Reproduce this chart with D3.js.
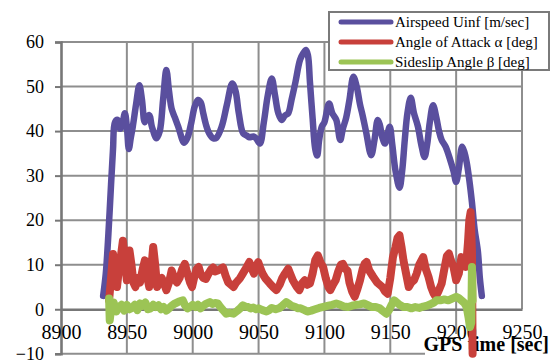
<!DOCTYPE html>
<html>
<head>
<meta charset="utf-8">
<script src="https://cdn.jsdelivr.net/npm/d3@7/dist/d3.min.js"></script>
<style>
  html, body { margin: 0; padding: 0; background: #fff; }
  svg { display: block; }
</style>
</head>
<body>
<svg id="chart" width="553" height="362"></svg>
<script>
// Flight record: airspeed, angle of attack and sideslip against GPS time
const xTicks = [8900, 8950, 9000, 9050, 9100, 9150, 9200, 9250];
const yTicks = [-10, 0, 10, 20, 30, 40, 50, 60];

const seriesNames = ["Airspeed Uinf [m/sec]", "Angle of Attack \u03b1 [deg]", "Sideslip Angle \u03b2 [deg]"];
const seriesColors = ["#5a4f9e", "#c8403b", "#9cc455"];

const airspeedTime = [8932, 8934, 8936, 8938, 8939.5, 8941, 8943, 8945, 8946.5, 8948.5, 8950, 8951.5, 8953, 8954.5, 8957, 8959.5, 8961.5, 8963.5, 8965, 8967, 8969, 8972.5, 8975, 8977.5, 8980, 8982, 8984, 8986.5, 8989, 8993.5, 8996, 8999, 9001.5, 9004, 9006, 9008, 9010, 9012.5, 9015.5, 9018, 9022, 9026, 9030, 9032.5, 9035, 9038.3, 9041, 9043, 9046, 9048, 9051, 9054, 9057, 9060, 9062.5, 9065, 9067.5, 9070, 9072.5, 9075, 9078, 9081.5, 9084, 9086, 9087.5, 9089, 9091, 9093, 9094.5, 9096, 9098, 9100, 9103.5, 9106, 9109, 9112, 9114, 9116.5, 9119, 9122, 9124.5, 9127, 9129, 9131.5, 9135.5, 9138, 9140.5, 9142, 9144, 9146, 9148, 9149.6, 9151.5, 9154, 9157, 9159, 9161, 9163, 9165.5, 9168, 9171, 9173.5, 9176, 9178, 9180, 9182.5, 9185, 9187, 9189, 9192, 9195.5, 9198, 9200, 9202, 9204.5, 9206, 9208, 9210, 9212, 9214, 9216.5, 9218, 9219.5];
const airspeed = [3, 8, 17, 28, 36, 42, 42.5, 40.5, 41.5, 44, 41, 36, 38.5, 41, 46, 50.3, 47, 42, 43, 43.6, 41, 38.4, 40, 47, 53.7, 49, 45, 43, 41, 37.4, 38.5, 42, 45.5, 47, 46.5, 44, 41.5, 39.5, 38.4, 38.5, 41, 46, 50.7, 49, 44, 39.5, 39, 38.6, 38.8, 38.4, 37.2, 42, 48, 51.8, 48, 44, 42.5, 43.5, 44, 47, 51, 56, 57.5, 58.2, 57, 51, 43, 36, 34.5, 38, 41, 42, 46.2, 44, 42.5, 38, 40.5, 43, 47, 52.2, 50, 46, 43.5, 40, 34.6, 38, 42.5, 41.5, 38.5, 37.2, 39.5, 41, 37, 31, 27.3, 31, 38, 44, 47.5, 44, 41, 37, 34.2, 37, 42, 45.8, 43, 40, 38, 36.5, 33.5, 31, 28.6, 31.5, 36.5, 35.5, 33, 29, 24, 18, 13, 7, 3];

const alphaTime = [8936.5, 8938, 8939.5, 8941, 8942.5, 8944, 8945.5, 8947, 8948.5, 8950, 8951, 8952, 8953.5, 8955, 8956.5, 8958, 8960, 8962, 8963.7, 8965, 8967, 8968.5, 8970, 8971.5, 8973, 8975, 8976.5, 8978, 8980, 8982, 8984, 8986, 8988, 8990, 8992, 8994, 8996, 8998, 8999.5, 9001, 9003, 9004.5, 9006, 9008, 9010, 9012, 9014, 9015.5, 9017, 9019, 9021, 9023, 9025, 9027, 9029, 9031, 9033, 9036, 9038, 9041, 9043, 9045, 9046.5, 9048, 9049.7, 9051, 9053, 9055, 9058.5, 9061, 9063.5, 9066, 9068, 9070, 9072.5, 9074, 9076, 9079, 9081, 9083, 9085, 9087, 9089, 9091, 9093, 9095, 9097, 9099, 9101, 9103, 9104.5, 9106.5, 9108.5, 9110.5, 9112.5, 9114, 9116, 9117.5, 9119, 9121, 9123, 9125, 9127, 9129, 9130.5, 9132, 9134, 9137, 9140, 9142, 9144, 9146, 9148, 9150, 9152, 9154, 9155.5, 9157, 9158.5, 9160, 9162, 9164, 9166, 9168, 9170, 9172, 9175, 9177, 9179, 9181, 9183, 9184.5, 9186.5, 9189, 9191, 9193, 9194.5, 9196, 9198, 9200, 9202, 9204, 9206, 9207.5, 9209, 9210, 9211, 9212, 9212.5];
const alpha = [2, 7, 12.4, 8, 5, 9, 12, 15.4, 11, 6.5, 9, 13.2, 10, 6, 5, 7, 6, 9, 11, 8, 5, 9, 14, 10, 5, 6.5, 7, 6, 4.3, 6, 8.7, 7, 6, 7, 9, 10.2, 8, 6, 5, 7, 9, 9.5, 8, 7, 6.8, 8, 9, 9.4, 8.5, 8.7, 9, 9.4, 7.5, 6, 5.5, 5, 6, 7, 8, 9.5, 10.6, 9, 8, 9.5, 10.6, 9.5, 8, 7, 5.8, 5, 4.3, 5.5, 7, 8, 9.1, 8, 6.5, 5, 4.3, 5.8, 6.5, 5.5, 5.8, 8, 11, 12.1, 10.5, 9.5, 7, 5, 4.3, 5.5, 6.5, 8.5, 10, 10.2, 9, 8.7, 6, 4, 2.8, 4.5, 6.5, 9, 10.2, 10.6, 8.7, 7.3, 6, 5.5, 5, 4, 3.5, 7, 11.7, 14, 16, 16.6, 14, 11, 8, 5, 6, 6.5, 8, 10, 11.7, 9, 7.3, 5, 3.5, 2.8, 4, 5.8, 9, 12, 12.5, 11, 9.5, 6.5, 8, 11.7, 10.5, 9.5, 15, 20, 21.8, 13, -10];

const betaTime = [8936.5, 8937, 8938, 8940, 8942, 8944, 8946, 8948, 8950, 8952, 8954, 8956, 8958, 8960, 8962, 8964, 8966, 8968, 8970, 8972, 8974, 8976, 8978, 8980, 8982, 8984, 8986, 8988, 8990, 8992.5, 8994, 8996, 8998, 9000, 9002, 9004, 9006, 9008, 9010, 9013, 9015, 9017, 9019, 9021, 9023, 9025.5, 9028, 9031, 9034, 9036, 9038, 9040, 9042, 9044, 9046, 9048, 9050, 9053, 9056, 9058, 9060, 9063, 9066, 9068, 9071, 9073, 9075, 9078, 9080, 9082, 9085, 9087, 9090, 9093, 9096, 9100, 9103, 9106, 9109, 9112, 9115, 9118, 9121, 9124, 9127, 9130, 9133, 9136, 9139, 9142, 9144, 9147, 9149, 9151, 9153, 9155, 9157, 9160, 9163, 9166, 9169, 9172, 9175, 9178, 9181, 9183, 9185, 9188, 9191, 9194, 9197, 9200, 9202, 9204, 9206, 9208, 9209.5, 9210.5, 9211.5, 9212, 9212.5];
const beta = [2.4, -2.5, 0, 1.5, -0.5, 0.5, 1, -0.3, 1, 0, 0.3, 1, -0.2, 1.3, 0.8, 1.5, 0, 0.2, 1, 0.5, 0.9, 0, 0.5, -0.3, 0.2, 0.8, 1.2, 1.5, 1.8, 2, 1, 0.2, 0.5, 1, 0.5, 1, 0.2, 0.8, 1.2, 1.6, 1.2, 1.4, 1.3, 0.5, -0.2, -1, -0.8, -1, -0.3, 0.2, 0.9, 0.6, 0.5, 0.2, 0.4, 0, 0.2, -0.2, -0.5, -0.2, 0.3, 0, 0.3, 0.8, 1.6, 1.2, 0.8, 0.5, 0.2, 0.2, -0.2, -0.5, -0.3, 0, 0.3, 0.6, 0.8, 1, 1.3, 1, 0.6, 0.5, 0.8, 1, 1.1, 1.3, 0.9, 0.5, 0.5, 0.2, -0.3, -1, -0.2, 1, 2, 1.5, 1, 0.5, 0.5, 0.2, 0.5, 0.3, 0.6, 0.8, 1.2, 1.5, 2, 2, 2.2, 2, 2.4, 2.8, 2.5, 2, 1.5, 0.5, -2, -4, -3, 9.5, 2];

const serif = "'Liberation Serif', 'Times New Roman', Times, serif";

const svg = d3.select("#chart");
const x = d3.scaleLinear().domain([8900, 9250]).range([61, 522]);
const y = d3.scaleLinear().domain([-10, 60]).range([353.8, 42]);

const gridColor = "#8e8e8e";
const axisColor = "#777";

// horizontal gridlines
svg.append("g").selectAll("line").data(yTicks.filter(v => v !== 0)).join("line")
  .attr("x1", x(8900)).attr("x2", x(9250))
  .attr("y1", d => y(d)).attr("y2", d => y(d))
  .attr("stroke", gridColor).attr("stroke-width", 2);

// vertical gridlines; the right-hand edge stops at the zero axis
svg.append("g").selectAll("line").data(xTicks.slice(1)).join("line")
  .attr("x1", d => x(d)).attr("x2", d => x(d))
  .attr("y1", y(60)).attr("y2", d => d === 9250 ? y(0) : y(-10))
  .attr("stroke", gridColor).attr("stroke-width", 2);

// white backing of the axis title, under the tick labels
svg.append("rect").attr("x", 425).attr("y", 334).attr("width", 128).attr("height", 28).attr("fill", "#fff");

// y axis with outward ticks
const yAxis = svg.append("g").attr("transform", `translate(${x(8900)},0)`)
  .call(d3.axisLeft(y).tickValues(yTicks).tickSize(6).tickFormat(d3.format("d")));
yAxis.attr("font-family", null);
yAxis.select(".domain").attr("stroke", axisColor).attr("stroke-width", 2.6);
yAxis.selectAll(".tick line").attr("stroke", axisColor).attr("stroke-width", 2);
yAxis.selectAll(".tick text")
  .attr("x", -17).style("font-size", "18px").style("font-family", serif).attr("fill", "#000");

// x axis crossing at zero
const xAxis = svg.append("g").attr("transform", `translate(0,${y(0)})`)
  .call(d3.axisBottom(x).tickValues(xTicks).tickSize(0).tickFormat(d3.format("d")));
xAxis.attr("font-family", null);
xAxis.select(".domain").attr("stroke", axisColor).attr("stroke-width", 2.6);
xAxis.selectAll(".tick text")
  .attr("y", 16).attr("dy", "0.71em").style("font-size", "20px").style("font-family", serif).attr("fill", "#000");

// axis title
svg.append("text").attr("x", 549).attr("y", 351).attr("text-anchor", "end")
  .style("font-family", serif).style("font-size", "20px").style("font-weight", "bold").text("GPS time [sec]");

// data lines
const series = [
  { t: airspeedTime, v: airspeed, curve: d3.curveCatmullRom.alpha(0.5), w: 6.5 },
  { t: alphaTime, v: alpha, curve: d3.curveLinear, w: 8 },
  { t: betaTime, v: beta, curve: d3.curveLinear, w: 8 }
];
series.forEach((s, i) => {
  const pts = s.t.map((t, k) => [t, s.v[k]]);
  svg.append("path").datum(pts)
    .attr("fill", "none").attr("stroke", seriesColors[i])
    .attr("stroke-width", s.w).attr("stroke-linejoin", "round").attr("stroke-linecap", "round")
    .attr("d", d3.line().x(d => x(d[0])).y(d => y(d[1])).curve(s.curve));
});

// legend
const legend = svg.append("g");
legend.append("rect").attr("x", 329).attr("y", 12).attr("width", 220).attr("height", 58)
  .attr("fill", "#fff").attr("stroke", "#7a7a7a").attr("stroke-width", 2);
seriesNames.forEach((name, i) => {
  const ly = 22 + i * 20;
  legend.append("line").attr("x1", 341).attr("x2", 391).attr("y1", ly).attr("y2", ly)
    .attr("stroke", seriesColors[i]).attr("stroke-width", 5).attr("stroke-linecap", "round");
  legend.append("text").attr("x", 395).attr("y", ly + 5)
    .style("font-family", serif).style("font-size", "15px").attr("fill", "#000").text(name);
});
</script>
</body>
</html>
